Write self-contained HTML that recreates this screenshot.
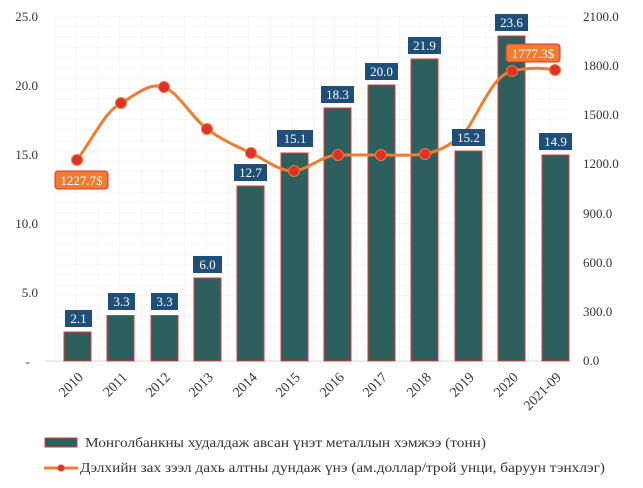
<!DOCTYPE html>
<html><head><meta charset="utf-8"><style>
body{margin:0;background:#fff}
svg{display:block;font-family:"Liberation Serif",serif}
</style></head><body>
<svg width="643" height="488" viewBox="0 0 643 488" xmlns="http://www.w3.org/2000/svg">
<defs>
<pattern id="g" x="55" y="16" width="21.5" height="10.35" patternUnits="userSpaceOnUse">
<path d="M0 0H21.5M0 0V10.35" stroke="#eeeeee" stroke-width="1" fill="none"/>
</pattern>
</defs>
<rect x="55" y="16" width="515" height="345" fill="url(#g)"/>
<line x1="45" y1="361" x2="570" y2="361" stroke="#d9d9d9"/>
<g font-size="13" fill="#333" text-anchor="end">
<text x="38" y="21">25.0</text><text x="38" y="90">20.0</text><text x="38" y="159">15.0</text>
<text x="38" y="228">10.0</text><text x="38" y="297">5.0</text><text x="30" y="366">-</text>
</g>
<g font-size="13" fill="#333" text-anchor="start">
<text x="583" y="21">2100.0</text><text x="583" y="70">1800.0</text><text x="583" y="119">1500.0</text>
<text x="583" y="168">1200.0</text><text x="583" y="218">900.0</text><text x="583" y="267">600.0</text>
<text x="583" y="316">300.0</text><text x="583" y="365">0.0</text>
</g>
<g fill="#2d5f5f" stroke="#e03a3a" stroke-width="1">
<rect x="64" y="332" width="27" height="29"/>
<rect x="107" y="315.5" width="27" height="45.5"/>
<rect x="151" y="315.5" width="27" height="45.5"/>
<rect x="194" y="278" width="27" height="83"/>
<rect x="237" y="186" width="27" height="175"/>
<rect x="281" y="153" width="27" height="208"/>
<rect x="324" y="108" width="27" height="253"/>
<rect x="368" y="85" width="27" height="276"/>
<rect x="411" y="59" width="27" height="302"/>
<rect x="455" y="151" width="27" height="210"/>
<rect x="498" y="36" width="27" height="325"/>
<rect x="542" y="155" width="27" height="206"/>
</g>
<path d="M77 160 C95 135,105 112,121 103 C137 94,150 82,164 87 C180 94,192 118,207 129 C222 140,236 146,251 153 C266 160,280 172,294 171 C310 169,320 156,338 155 L381 155 C400 155,412 156,425 154 C445 150,458 140,468 128 C485 100,495 75,512 71 C530 67,545 68,555 70" fill="none" stroke="#ed7d31" stroke-width="3"/>
<g fill="#e0302b" stroke="#ed7d31" stroke-width="1">
<circle cx="77" cy="160" r="5.5"/><circle cx="121" cy="103" r="5.5"/><circle cx="164" cy="87" r="5.5"/>
<circle cx="207" cy="129" r="5.5"/><circle cx="251" cy="153" r="5.5"/><circle cx="294" cy="171" r="5.5"/>
<circle cx="338" cy="155" r="5.5"/><circle cx="381" cy="155" r="5.5"/><circle cx="425" cy="154" r="5.5"/>
<circle cx="512" cy="71" r="5.5"/><circle cx="555" cy="70" r="5.5"/>
</g>
<g fill="#1f4e79">
<rect x="65" y="310" width="27" height="17"/><rect x="108" y="293" width="27" height="17"/>
<rect x="151" y="293" width="27" height="17"/><rect x="193" y="256" width="29" height="17"/>
<rect x="234" y="164" width="33" height="17"/><rect x="277" y="130" width="36" height="17"/>
<rect x="321" y="86" width="33" height="17"/><rect x="365" y="63" width="33" height="17"/>
<rect x="408" y="37" width="33" height="17"/><rect x="452" y="129" width="33" height="17"/>
<rect x="495" y="14" width="33" height="17"/><rect x="539" y="133" width="33" height="17"/>
</g>
<g fill="#fff" font-size="13" text-anchor="middle">
<text x="78.5" y="323">2.1</text><text x="121.5" y="306">3.3</text><text x="164.5" y="306">3.3</text>
<text x="207.5" y="269">6.0</text><text x="250.5" y="177">12.7</text><text x="295" y="143">15.1</text>
<text x="337.5" y="99">18.3</text><text x="381.5" y="76">20.0</text><text x="424.5" y="50">21.9</text>
<text x="468.5" y="142">15.2</text><text x="511.5" y="27">23.6</text><text x="555.5" y="146">14.9</text>
</g>
<rect x="55" y="171" width="53" height="18" rx="3" fill="#ed7d31" stroke="#e0302b"/>
<text x="81.5" y="185" fill="#fff" font-size="13" text-anchor="middle">1227.7$</text>
<rect x="506" y="44" width="54" height="18" rx="3" fill="#ed7d31" stroke="#e0302b"/>
<text x="533" y="58" fill="#fff" font-size="13" text-anchor="middle">1777.3$</text>
<g font-size="14" fill="#333" text-anchor="end">
<text transform="translate(84,378) rotate(-45)">2010</text>
<text transform="translate(128,378) rotate(-45)">2011</text>
<text transform="translate(171,378) rotate(-45)">2012</text>
<text transform="translate(214,378) rotate(-45)">2013</text>
<text transform="translate(258,378) rotate(-45)">2014</text>
<text transform="translate(301,378) rotate(-45)">2015</text>
<text transform="translate(345,378) rotate(-45)">2016</text>
<text transform="translate(388,378) rotate(-45)">2017</text>
<text transform="translate(432,378) rotate(-45)">2018</text>
<text transform="translate(475,378) rotate(-45)">2019</text>
<text transform="translate(519,378) rotate(-45)">2020</text>
<text transform="translate(562,378) rotate(-45)">2021-09</text>
</g>
<rect x="45" y="438" width="32" height="9" fill="#2d5f5f" stroke="#e03a3a"/>
<text x="85" y="447" font-size="14" fill="#333" textLength="401" lengthAdjust="spacingAndGlyphs">Монголбанкны худалдаж авсан үнэт металлын хэмжээ (тонн)</text>
<line x1="44" y1="468" x2="78" y2="468" stroke="#ed7d31" stroke-width="3"/>
<circle cx="61" cy="468" r="3.5" fill="#e0302b"/>
<text x="80" y="472" font-size="14" fill="#333" textLength="525" lengthAdjust="spacingAndGlyphs">Дэлхийн зах зээл дахь алтны дундаж үнэ (ам.доллар/трой унци, баруун тэнхлэг)</text>
</svg>
</body></html>
